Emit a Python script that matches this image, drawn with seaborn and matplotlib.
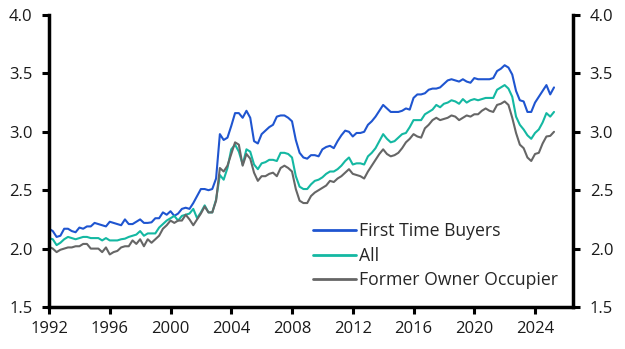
import numpy as np
import pandas as pd
import matplotlib
matplotlib.use("Agg")
import matplotlib.pyplot as plt
import seaborn as sns

start_year = 1992
ftb = [2.17, 2.15, 2.10, 2.11,
       2.17, 2.17, 2.15, 2.14,
       2.18, 2.17, 2.19, 2.19,
       2.22, 2.21, 2.20, 2.19,
       2.23, 2.22, 2.21, 2.20,
       2.25, 2.21, 2.21, 2.23,
       2.25, 2.22, 2.22, 2.225,
       2.26, 2.26, 2.31, 2.29,
       2.32, 2.28, 2.30, 2.34,
       2.35, 2.34, 2.39, 2.45,
       2.51, 2.51, 2.50, 2.51,
       2.60, 2.98, 2.93, 2.95,
       3.05, 3.16, 3.16, 3.12,
       3.18, 3.12, 2.92, 2.90,
       2.98, 3.01, 3.04, 3.06,
       3.13, 3.14, 3.14, 3.12,
       3.09, 2.93, 2.82, 2.78,
       2.77, 2.80, 2.80, 2.79,
       2.85, 2.87, 2.88, 2.86,
       2.92, 2.97, 3.01, 3.00,
       2.96, 2.99, 2.99, 3.00,
       3.06, 3.09, 3.13, 3.18,
       3.23, 3.20, 3.17, 3.17,
       3.17, 3.18, 3.20, 3.19,
       3.29, 3.32, 3.32, 3.33,
       3.36, 3.37, 3.37, 3.38,
       3.41, 3.44, 3.45, 3.44,
       3.43, 3.45, 3.43, 3.42,
       3.46, 3.45, 3.45, 3.45,
       3.45, 3.46, 3.52, 3.54,
       3.57, 3.55, 3.49, 3.35,
       3.27, 3.26, 3.17, 3.17,
       3.25, 3.30, 3.35, 3.40,
       3.32, 3.38]

all_buyers = [2.09, 2.08, 2.03, 2.05,
              2.08, 2.10, 2.09, 2.08,
              2.09, 2.10, 2.10, 2.09,
              2.09, 2.09, 2.07, 2.09,
              2.07, 2.07, 2.07, 2.08,
              2.085, 2.10, 2.11, 2.12,
              2.15, 2.11, 2.13, 2.13,
              2.13, 2.18, 2.21, 2.24,
              2.26, 2.28, 2.24, 2.28,
              2.29, 2.30, 2.34, 2.26,
              2.31, 2.37, 2.31, 2.31,
              2.42, 2.63, 2.59, 2.69,
              2.85, 2.89, 2.83, 2.72,
              2.85, 2.83, 2.72, 2.68,
              2.73, 2.74, 2.76, 2.76,
              2.75, 2.82, 2.82, 2.81,
              2.78, 2.62, 2.53, 2.51,
              2.51, 2.55, 2.58, 2.59,
              2.61, 2.64, 2.66, 2.66,
              2.68, 2.71, 2.75, 2.78,
              2.72, 2.73, 2.73, 2.72,
              2.79, 2.82, 2.86, 2.92,
              2.98, 2.94, 2.91, 2.92,
              2.95, 2.98, 2.99, 3.04,
              3.10, 3.10, 3.10, 3.15,
              3.17, 3.19, 3.23, 3.21,
              3.24, 3.25, 3.27, 3.26,
              3.24, 3.28, 3.25, 3.27,
              3.28, 3.27, 3.28, 3.29,
              3.29, 3.29, 3.36, 3.38,
              3.40, 3.37, 3.30, 3.13,
              3.06, 3.02, 2.97, 2.94,
              2.99, 3.02, 3.08, 3.16,
              3.13, 3.17]

foo = [2.015, 2.00, 1.97, 1.99,
       2.00, 2.01, 2.01, 2.02,
       2.02, 2.04, 2.04, 2.00,
       2.00, 2.00, 1.97, 2.01,
       1.95, 1.97, 1.98, 2.01,
       2.02, 2.02, 2.07, 2.04,
       2.08, 2.02, 2.08, 2.05,
       2.08, 2.11, 2.17, 2.20,
       2.24, 2.22, 2.24, 2.24,
       2.29, 2.25, 2.20, 2.25,
       2.30, 2.36, 2.31, 2.31,
       2.41, 2.69, 2.66, 2.71,
       2.81, 2.91, 2.89, 2.71,
       2.81, 2.77, 2.65, 2.58,
       2.62, 2.62, 2.64, 2.65,
       2.62, 2.69, 2.71, 2.69,
       2.66, 2.51, 2.41, 2.39,
       2.39, 2.45, 2.48, 2.50,
       2.52, 2.54, 2.58, 2.57,
       2.60, 2.62, 2.65, 2.68,
       2.64, 2.63, 2.62, 2.60,
       2.66, 2.71, 2.76, 2.81,
       2.85, 2.81, 2.79, 2.80,
       2.82, 2.86, 2.91, 2.94,
       2.98, 2.96, 2.95, 3.03,
       3.06, 3.10, 3.12, 3.10,
       3.11, 3.12, 3.14, 3.13,
       3.10, 3.12, 3.14, 3.13,
       3.15, 3.15, 3.18, 3.20,
       3.18, 3.17, 3.23, 3.24,
       3.26, 3.23, 3.12, 2.99,
       2.89, 2.86, 2.78, 2.75,
       2.81, 2.82, 2.90, 2.96,
       2.965, 3.00]

series_names = ["First Time Buyers", "All", "Former Owner Occupier"]
x_ticks = [1992, 1996, 2000, 2004, 2008, 2012, 2016, 2020, 2024]
y_ticks = [1.5, 2.0, 2.5, 3.0, 3.5, 4.0]

n = len(ftb)
t = start_year + np.arange(n) * 0.25
df = pd.DataFrame({
    "t": np.concatenate([t, t, t]),
    "v": np.concatenate([ftb, all_buyers, foo]),
    "s": np.repeat(series_names, n),
})

sns.set_style("white")
plt.rcParams["font.family"] = ["Open Sans", "DejaVu Sans"]

fig = plt.figure(figsize=(6.25, 3.49), dpi=100)
ax = fig.add_axes([49 / 625, 1 - 307 / 349, (573 - 49) / 625, (307 - 15) / 349])
palette = {"First Time Buyers": "#1f55d0", "All": "#14b8a2", "Former Owner Occupier": "#666666"}
sns.lineplot(data=df, x="t", y="v", hue="s", hue_order=series_names, palette=palette,
             linewidth=1.5, ax=ax)

ax.set_xlim(1992, 2026.5)
ax.set_ylim(1.5, 4.0)
ax.set_xticks(x_ticks)
ax.set_xticklabels([str(x) for x in x_ticks])
ax.set_yticks(y_ticks)
ax.set_yticklabels([f"{y:.1f}" for y in y_ticks])
ax.set_xlabel("")
ax.set_ylabel("")

for side in ["left", "right", "bottom"]:
    ax.spines[side].set_visible(True)
    ax.spines[side].set_color("black")
    ax.spines[side].set_linewidth(2.5)
ax.spines["top"].set_visible(False)

ax.tick_params(axis="both", which="both", direction="out", length=5, width=2.2,
               color="black", labelsize=12, labelcolor="#1a1a1a")
ax.tick_params(axis="y", left=True, right=True, labelleft=True, labelright=True, pad=7)
ax.tick_params(axis="x", bottom=True, pad=5)

leg = ax.legend(loc="lower right", bbox_to_anchor=(0.995, 0.018), frameon=False,
                fontsize=12.7, handlelength=2.4, handletextpad=0.2, labelspacing=0.38,
                borderaxespad=0.3)
for line in leg.get_lines():
    line.set_linewidth(2)

fig.savefig("out.png", dpi=100)
